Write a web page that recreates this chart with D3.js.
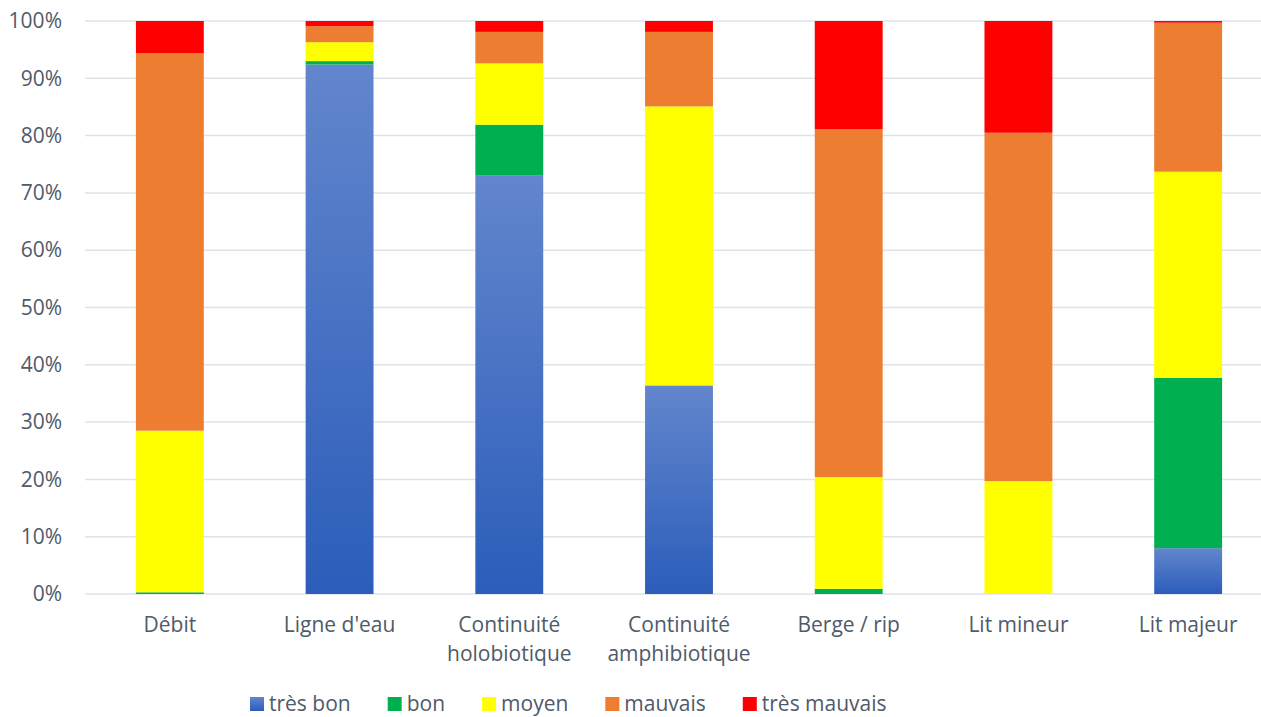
<!DOCTYPE html>
<html>
<head>
<meta charset="utf-8">
<script src="https://cdn.jsdelivr.net/npm/d3@7"></script>
<style>
  body { margin: 0; background: #fff; }
  text { font-family: "Open Sans", "Noto Sans", sans-serif; fill: #4f5a6a; }
</style>
</head>
<body>
<div id="chart-root"></div>
<script>
const categories = ["Débit", "Ligne d'eau", "Continuité\nholobiotique", "Continuité\namphibiotique", "Berge / rip", "Lit mineur", "Lit majeur"]
const series = ["très bon", "bon", "moyen", "mauvais", "très mauvais"]

// shares per category, in %
const tresBon     = [0.0, 92.4, 73.0, 36.4, 0.0, 0.0, 8.0]
const bon         = [0.3, 0.6, 8.9, 0.0, 0.9, 0.0, 29.7]
const moyen       = [28.2, 3.3, 10.7, 48.7, 19.5, 19.7, 36.0]
const mauvais     = [65.9, 2.8, 5.5, 13.0, 60.7, 60.8, 26.0]
const tresMauvais = [5.6, 0.9, 1.9, 1.9, 18.9, 19.5, 0.3]

const yTicks = [0, 10, 20, 30, 40, 50, 60, 70, 80, 90, 100]

const seriesColors = {
  "très bon": "url(#blue-grad)",
  "bon": "#00b050",
  "moyen": "#ffff00",
  "mauvais": "#ed7d31",
  "très mauvais": "#ff0000",
}

const width = 1261,
  height = 717
const margin = {top: 21, right: -12, bottom: 123, left: 85}
const fontSize = 21

const rows = categories.map((c, i) => ({
  category: c,
  "très bon": tresBon[i],
  "bon": bon[i],
  "moyen": moyen[i],
  "mauvais": mauvais[i],
  "très mauvais": tresMauvais[i],
}))

const svg = d3.select("#chart-root")
  .append("svg")
    .attr("width", width)
    .attr("height", height)

const grad = svg.append("defs")
  .append("linearGradient")
    .attr("id", "blue-grad")
    .attr("x1", 0).attr("y1", 0)
    .attr("x2", 0).attr("y2", 1)
grad.append("stop").attr("offset", "0%").attr("stop-color", "#6286cd")
grad.append("stop").attr("offset", "100%").attr("stop-color", "#2c5dba")

// Scales
const x = d3.scaleBand()
  .domain(categories)
  .range([margin.left, width - margin.right])
  .paddingInner(0.6)
  .paddingOuter(0.3)

const y = d3.scaleLinear()
  .domain([0, 100])
  .range([height - margin.bottom, margin.top])

// Gridlines
svg.append("g")
  .selectAll("line")
  .data(yTicks)
  .enter()
  .append("line")
  .attr("x1", margin.left)
  .attr("x2", width - margin.right)
  .attr("y1", d => y(d))
  .attr("y2", d => y(d))
  .attr("stroke", "#dfe3e9")
  .attr("stroke-width", 1.5)

// Y axis labels
const yAxis = svg.append("g")
  .attr("transform", "translate(" + (margin.left - 23) + ",0)")
  .call(d3.axisLeft(y).tickValues(yTicks).tickFormat(d => d + "%").tickSize(0).tickPadding(0))
yAxis.select(".domain").remove()
yAxis.selectAll("text")
  .attr("font-size", fontSize)
  .attr("font-family", null)
  .attr("fill", null)

// Stacked bars
const stack = d3.stack().keys(series)
const layers = stack(rows)

svg.append("g")
  .selectAll("g.layer")
  .data(layers)
  .enter()
  .append("g")
  .classed("layer", true)
  .attr("fill", d => seriesColors[d.key])
  .selectAll("rect")
  .data(d => d.filter(s => s[1] - s[0] > 0))
  .enter()
  .append("rect")
  .attr("x", d => x(d.data.category))
  .attr("width", x.bandwidth())
  .attr("y", d => y(d[1]))
  .attr("height", d => y(d[0]) - y(d[1]))

// Category labels
const catLabels = svg.append("g")
  .selectAll("text")
  .data(categories)
  .enter()
  .append("text")
  .attr("text-anchor", "middle")
  .attr("font-size", fontSize)
  .attr("transform", d => "translate(" + (x(d) + x.bandwidth() / 2) + "," + (y(0) + 38) + ")")

catLabels.selectAll("tspan")
  .data(d => d.split("\n"))
  .enter()
  .append("tspan")
  .attr("x", 0)
  .attr("dy", (d, i) => i === 0 ? 0 : 29)
  .text(d => d)

// Legend
const legend = svg.append("g")
  .attr("transform", "translate(250," + (height - 6) + ")")

let cursor = 0
series.forEach(s => {
  const item = legend.append("g")
    .attr("transform", "translate(" + cursor + ",0)")
  item.append("rect")
    .attr("x", 0)
    .attr("y", -14)
    .attr("width", 14)
    .attr("height", 14)
    .attr("fill", seriesColors[s])
  const t = item.append("text")
    .attr("x", 19)
    .attr("y", 0)
    .attr("font-size", fontSize)
    .text(s)
  cursor += 19 + t.node().getComputedTextLength() + 37
})
</script>
</body>
</html>
